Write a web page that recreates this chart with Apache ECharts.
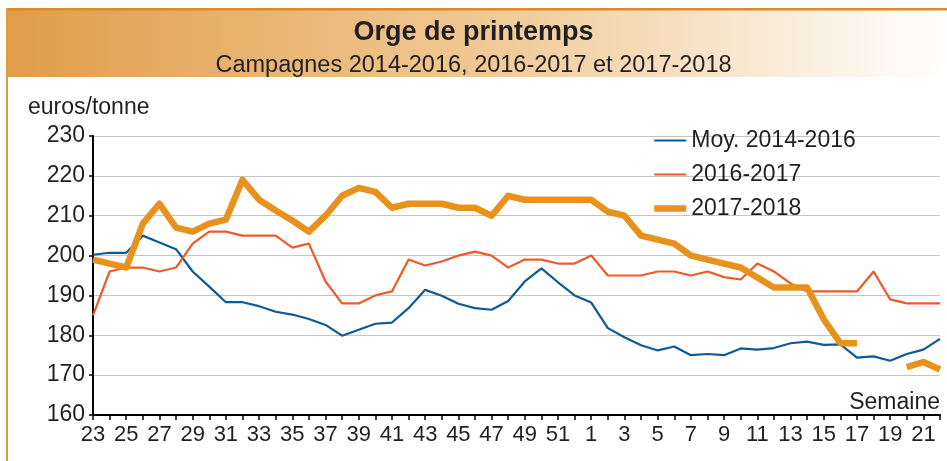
<!DOCTYPE html>
<html><head><meta charset="utf-8">
<script src="https://cdn.jsdelivr.net/npm/echarts@6/dist/echarts.min.js"></script>
<style>html,body{margin:0;padding:0;background:#fff}#c{width:947px;height:461px}</style>
</head><body><div id="c"></div>
<script>
const weeks = ['23','24','25','26','27','28','29','30','31','32','33','34','35','36','37','38','39','40','41','42','43','44','45','46','47','48','49','50','51','52',
  '1','2','3','4','5','6','7','8','9','10','11','12','13','14','15','16','17','18','19','20','21','22'];
const moy1416 = [200.2,200.7,200.7,205,203.3,201.6,196,192.2,188.3,188.3,187.3,185.9,185.2,184.1,182.6,179.9,181.4,182.9,183.2,186.8,191.4,189.9,187.9,186.8,186.4,188.6,193.5,196.8,193.3,190,
  188.2,181.8,179.5,177.5,176.2,177.2,175,175.3,175,176.7,176.4,176.8,178,178.4,177.6,177.7,174.4,174.7,173.6,175.3,176.4,179.1];
const c1617 = [185,196,197,197,196,197,203,206,206,205,205,205,202,203,193.5,188,188,190,191,199,197.5,198.5,200,201,200,197,199,199,198,198,
  200,195,195,195,196,196,195,196,194.6,194,198,196,193,191,191,191,191,196,189,188,188,188];
const c1718 = [199,198,197,208,213,207,206,208,209,219,214,211.3,208.8,206,210,215,217,216,212,213,213,213,212,212,210,215,214,214,214,214,
  214,211,210,205,204,203,200,199,198,197,194.5,192,192,192,184,178,178,null,null,172,173.3,171.4];
const seriesNames = ['Moy. 2014-2016','2016-2017','2017-2018'];
const yMin = 160, yMax = 230, yStep = 10;

const FONT = "'Liberation Sans', Arial, sans-serif";
const TXT = '#231f20';
const chart = echarts.init(document.getElementById('c'), null, {renderer:'canvas'});
chart.setOption({
  animation: false,
  backgroundColor: '#ffffff',
  graphic: [
    {type:'rect', z:-10, shape:{x:7, y:9, width:940, height:68},
     style:{fill:new echarts.graphic.LinearGradient(0,0,1,0,[{offset:0,color:'#E09D4A'},{offset:0.5,color:'#F0C893'},{offset:1,color:'#FFFFFF'}])}},
    {type:'rect', z:-5, shape:{x:6, y:8, width:941, height:2.5}, style:{fill:'#E08A22'}},
    {type:'rect', z:-5, shape:{x:6, y:8, width:2, height:453}, style:{fill:'#E49A3A'}},
    {type:'text', left:28, top:96, style:{text:'euros/tonne', font:'23px ' + FONT, fill:TXT}},
    {type:'text', right:7, top:391, style:{text:'Semaine', font:'23px ' + FONT, fill:TXT}}
  ],
  title: {
    text: 'Orge de printemps',
    subtext: 'Campagnes 2014-2016, 2016-2017 et 2017-2018',
    left: 'center', top: 14, itemGap: 8,
    textStyle: {fontFamily: FONT, fontSize: 27, fontWeight: 'bold', color: TXT},
    subtextStyle: {fontFamily: FONT, fontSize: 23.5, color: TXT}
  },
  legend: {
    orient: 'vertical', left: 646, top: 124, itemWidth: 32, itemHeight: 22, itemGap: 11,
    itemStyle: {opacity: 0},
    textStyle: {fontFamily: FONT, fontSize: 23, color: TXT},
    data: [
      {name: seriesNames[0], lineStyle: {width: 2.2}},
      {name: seriesNames[1], lineStyle: {width: 2.2}},
      {name: seriesNames[2], lineStyle: {width: 6.5}}
    ]
  },
  grid: {left: 93, right: 7, top: 136, bottom: 46, containLabel: false},
  xAxis: {
    type: 'category', data: weeks, boundaryGap: false,
    axisLine: {lineStyle: {color: '#000', width: 2}},
    axisTick: {show: true, interval: 0, length: 5, lineStyle: {color: '#000', width: 1.5}},
    axisLabel: {interval: 1, fontFamily: FONT, fontSize: 22, color: TXT, margin: 9},
    splitLine: {show: false}
  },
  yAxis: {
    type: 'value', min: yMin, max: yMax, interval: yStep,
    axisLine: {show: true, lineStyle: {color: '#000', width: 2}},
    axisTick: {show: true, length: 4, lineStyle: {color: '#000', width: 1.5}},
    axisLabel: {fontFamily: FONT, fontSize: 23, color: TXT, margin: 8},
    splitLine: {lineStyle: {color: '#c4c4c4', width: 1.2}}
  },
  series: [
    {name: seriesNames[0], type: 'line', data: moy1416, symbol: 'none', z: 2,
     lineStyle: {color: '#0E5A96', width: 2.2}, itemStyle: {color: '#0E5A96'}},
    {name: seriesNames[1], type: 'line', data: c1617, symbol: 'none', z: 3,
     lineStyle: {color: '#EF5A2A', width: 2.2}, itemStyle: {color: '#EF5A2A'}},
    {name: seriesNames[2], type: 'line', data: c1718, symbol: 'none', z: 4, connectNulls: false,
     lineStyle: {color: '#E8921C', width: 6.5, join: 'round'}, itemStyle: {color: '#E8921C'}}
  ]
});
</script></body></html>
